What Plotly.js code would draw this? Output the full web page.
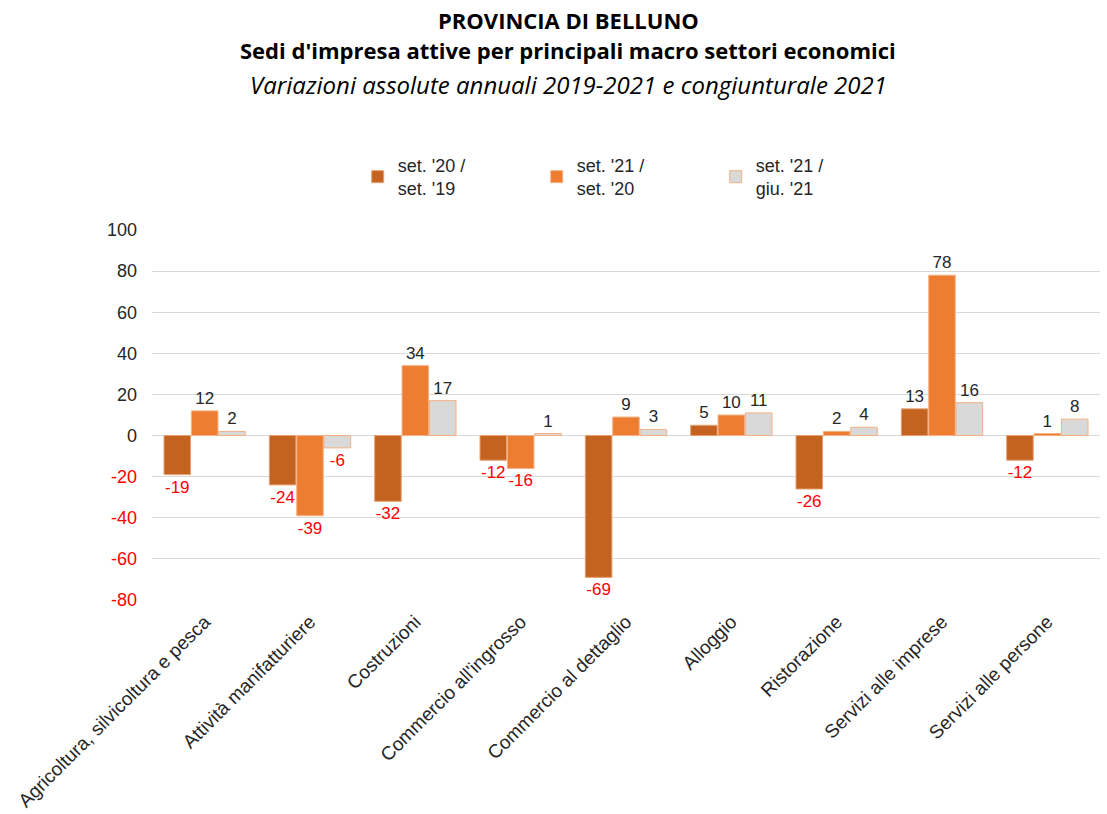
<!DOCTYPE html>
<html><head><meta charset="utf-8">
<script src="https://cdn.plot.ly/plotly-3.0.1.min.js"></script>
<style>body{margin:0;background:#fff}#c{width:1107px;height:814px}</style>
</head><body><div id="c"></div>
<script>
const categories = ["Agricoltura, silvicoltura e pesca","Attività manifatturiere","Costruzioni","Commercio all'ingrosso","Commercio al dettaglio","Alloggio","Ristorazione","Servizi alle imprese","Servizi alle persone"];
const seriesNames = ["set. '20 /<br>set. '19","set. '21 /<br>set. '20","set. '21 /<br>giu. '21"];
const s2019_2020 = [-19,-24,-32,-12,-69,5,-26,13,-12];
const s2020_2021 = [12,-39,34,-16,9,10,2,78,1];
const sGiuSet21 = [2,-6,17,1,3,11,4,16,8];
const yTicks = [100,80,60,40,20,0,-20,-40,-60,-80];

const colors = ["#C4631F","#ED7D31","#D9D9D9"];
const borders = ["#E9A070","#F4B183","#F4B183"];
const series = [s2019_2020, s2020_2021, sGiuSet21];
const traces = series.map((vals,i)=>({
  type:'bar', x:categories, y:vals, name:seriesNames[i],
  marker:{color:colors[i], line:{color:borders[i], width:1}},
  text:vals.map(v=>String(v)), textposition:'outside', cliponaxis:false,
  textfont:{family:'Liberation Sans, Arial', size:17, color:vals.map(v=>v<0?'#FF0000':'#262626')},
  hoverinfo:'none'
}));
const layout = {
  width:1107, height:814,
  margin:{l:152,r:7,t:230,b:214},
  paper_bgcolor:'#fff', plot_bgcolor:'#fff',
  barmode:'group', bargap:0.22, bargroupgap:0.03,
  font:{family:'Liberation Sans, Arial', size:18, color:'#262626'},
  showlegend:true,
  legend:{orientation:'h', x:0.217, xanchor:'left', y:1.225, yanchor:'top',
    font:{size:18,color:'#262626'}, entrywidth:134, entrywidthmode:'pixels', itemwidth:20, traceorder:'normal'},
  xaxis:{tickangle:-45, tickfont:{size:19,color:'#262626'}, showgrid:false, zeroline:false, showline:false, ticks:'', ticklabelstandoff:6},
  yaxis:{range:[-80,100], tickvals:yTicks,
    ticktext:yTicks.map(v=>v<0?'<span style="color:#FF0000">'+v+'</span>':String(v)),
    tickfont:{size:18,color:'#262626'}, gridcolor:'#D9D9D9', gridwidth:1, zeroline:true, zerolinecolor:'#D9D9D9', zerolinewidth:1, showline:false, ticks:'', ticklabelstandoff:14},
  annotations:[
    {text:'<b>PROVINCIA DI BELLUNO</b>', xref:'paper', yref:'paper', x:0.439, y:1.568, yanchor:'middle', showarrow:false, font:{family:'Open Sans, Noto Sans', size:22, color:'#000'}},
    {text:"<b>Sedi d'impresa attive per principali macro settori economici</b>", xref:'paper', yref:'paper', x:0.439, y:1.486, yanchor:'middle', showarrow:false, font:{family:'Open Sans, Noto Sans', size:22, color:'#000'}},
    {text:'<i>Variazioni assolute annuali 2019-2021 e congiunturale 2021</i>', xref:'paper', yref:'paper', x:0.439, y:1.392, yanchor:'middle', showarrow:false, font:{family:'Open Sans, Noto Sans', size:24, color:'#000'}}
  ]
};
Plotly.newPlot('c', traces, layout, {displayModeBar:false, staticPlot:true});
</script></body></html>
